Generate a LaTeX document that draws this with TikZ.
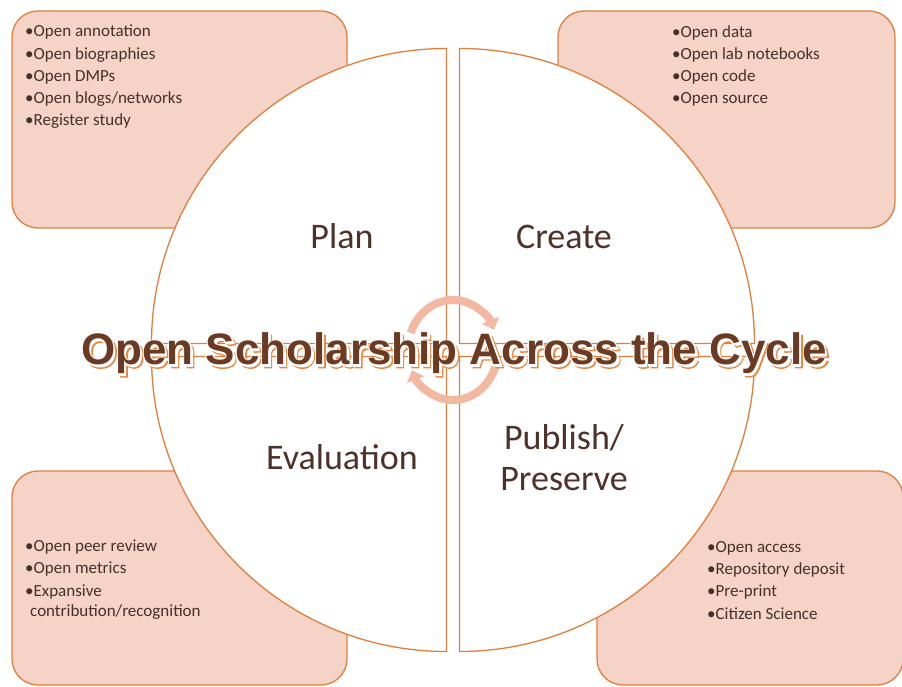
\documentclass[tikz,border=0pt]{standalone}
\usepackage{fontspec}
\setmainfont{Carlito}
\newfontface\titleplain{Liberation Sans Bold}
\newfontface\titleshadow[FakeBold=4]{Liberation Sans Bold}
\newfontface\titlehalo[FakeBold=6]{Liberation Sans Bold}
\usepackage{tikz}
\usetikzlibrary{arrows.meta}
\definecolor{boxfill}{HTML}{F5D3C6}
\definecolor{rimorange}{HTML}{DE7F3E}
\definecolor{cyclepink}{HTML}{F2B8A2}
\definecolor{labelbrown}{HTML}{4E3129}
\definecolor{listbrown}{HTML}{45302A}
\definecolor{titlebrown}{HTML}{6B3A22}
\definecolor{shadoworange}{HTML}{E8843C}
\newcommand{\shadowed}[1]{%
	\makebox[0pt][l]{\hspace{2.6pt}\raisebox{-2.6pt}{\color{shadoworange}\titleshadow #1}}%
	\makebox[0pt][l]{\hspace{2.6pt}\raisebox{-2.6pt}{\color{white}\titleplain #1}}%
	\makebox[0pt][l]{\color{white}\titlehalo #1}%
	{\color{titlebrown}\titleplain #1}}

\begin{document}
\begin{tikzpicture}[x=1pt,y=1pt,
	infobox/.style={draw=rimorange, line width=1.3pt, fill=boxfill, rounded corners=26pt},
	quarter/.style={draw=rimorange, line width=1.3pt, fill=white},
	phase/.style={text=labelbrown, font=\fontsize{36}{41}\selectfont, align=center, inner sep=0pt, anchor=base},
	itemlist/.style={text=listbrown, font=\fontsize{17}{19.8}\selectfont, align=left, inner sep=0pt, anchor=base west},
	cyclearrow/.style={draw=cyclepink, line width=8pt, -{Triangle[width=18pt,length=10pt]}},
	heading/.style={font=\fontsize{44}{44}\selectfont, inner sep=0pt, anchor=base}]
	\useasboundingbox (0,0) rectangle (902,686);
	
	\draw[infobox] (12,675) rectangle (347,458);
	\draw[infobox] (558,675) rectangle (895,458);
	\draw[infobox] (12,215) rectangle (347,1);
	\draw[infobox] (597,215) rectangle (903,1);
	
	\node[itemlist] (planlist) at (25,560) {\textbullet Open annotation\\[2.5pt]\textbullet Open biographies\\[2.5pt]\textbullet Open DMPs\\[2.5pt]\textbullet Open blogs/networks\\[2.5pt]\textbullet Register study};
	\node[itemlist] (createlist) at (672,582) {\textbullet Open data\\[2.5pt]\textbullet Open lab notebooks\\[2.5pt]\textbullet Open code\\[2.5pt]\textbullet Open source};
	\node[itemlist] (evallist) at (25,70) {\textbullet Open peer review\\[2.5pt]\textbullet Open metrics\\[2.5pt]\textbullet Expansive\\\hspace*{5pt}contribution/recognition};
	\node[itemlist] (publist) at (707,67) {\textbullet Open access\\[2.5pt]\textbullet Repository deposit\\[2.5pt]\textbullet Pre-print\\[2.5pt]\textbullet Citizen Science};
	
	\draw[quarter] (446.5,342.5) -- ++(-295,0) arc[start angle=180, end angle=90, radius=295] -- cycle;
	\draw[quarter] (459.5,342.5) -- ++(0,295) arc[start angle=90, end angle=0, radius=295] -- cycle;
	\draw[quarter] (446.5,329.5) -- ++(-295,0) arc[start angle=180, end angle=270, radius=295] -- cycle;
	\draw[quarter] (459.5,329.5) -- ++(295,0) arc[start angle=0, end angle=-90, radius=295] -- cycle;
	
	\node[phase] (plan) at (342,437) {Plan};
	\node[phase] (create) at (564,437) {Create};
	\node[phase] (evaluation) at (342,217) {Evaluation};
	\node[phase] (publish) at (564,196) {Publish/\\Preserve};
	
	\coordinate (hub) at (453,336);
	\draw[cyclearrow] (hub) ++(160:45 and 50) arc[start angle=160, end angle=24, x radius=45, y radius=50];
	\draw[cyclearrow] (hub) ++(-20:45 and 50) arc[start angle=-20, end angle=-156, x radius=45, y radius=50];
	
	\node[heading] (title) at (454,321) {\shadowed{Open Scholarship Across the Cycle}};
\end{tikzpicture}
\end{document}
